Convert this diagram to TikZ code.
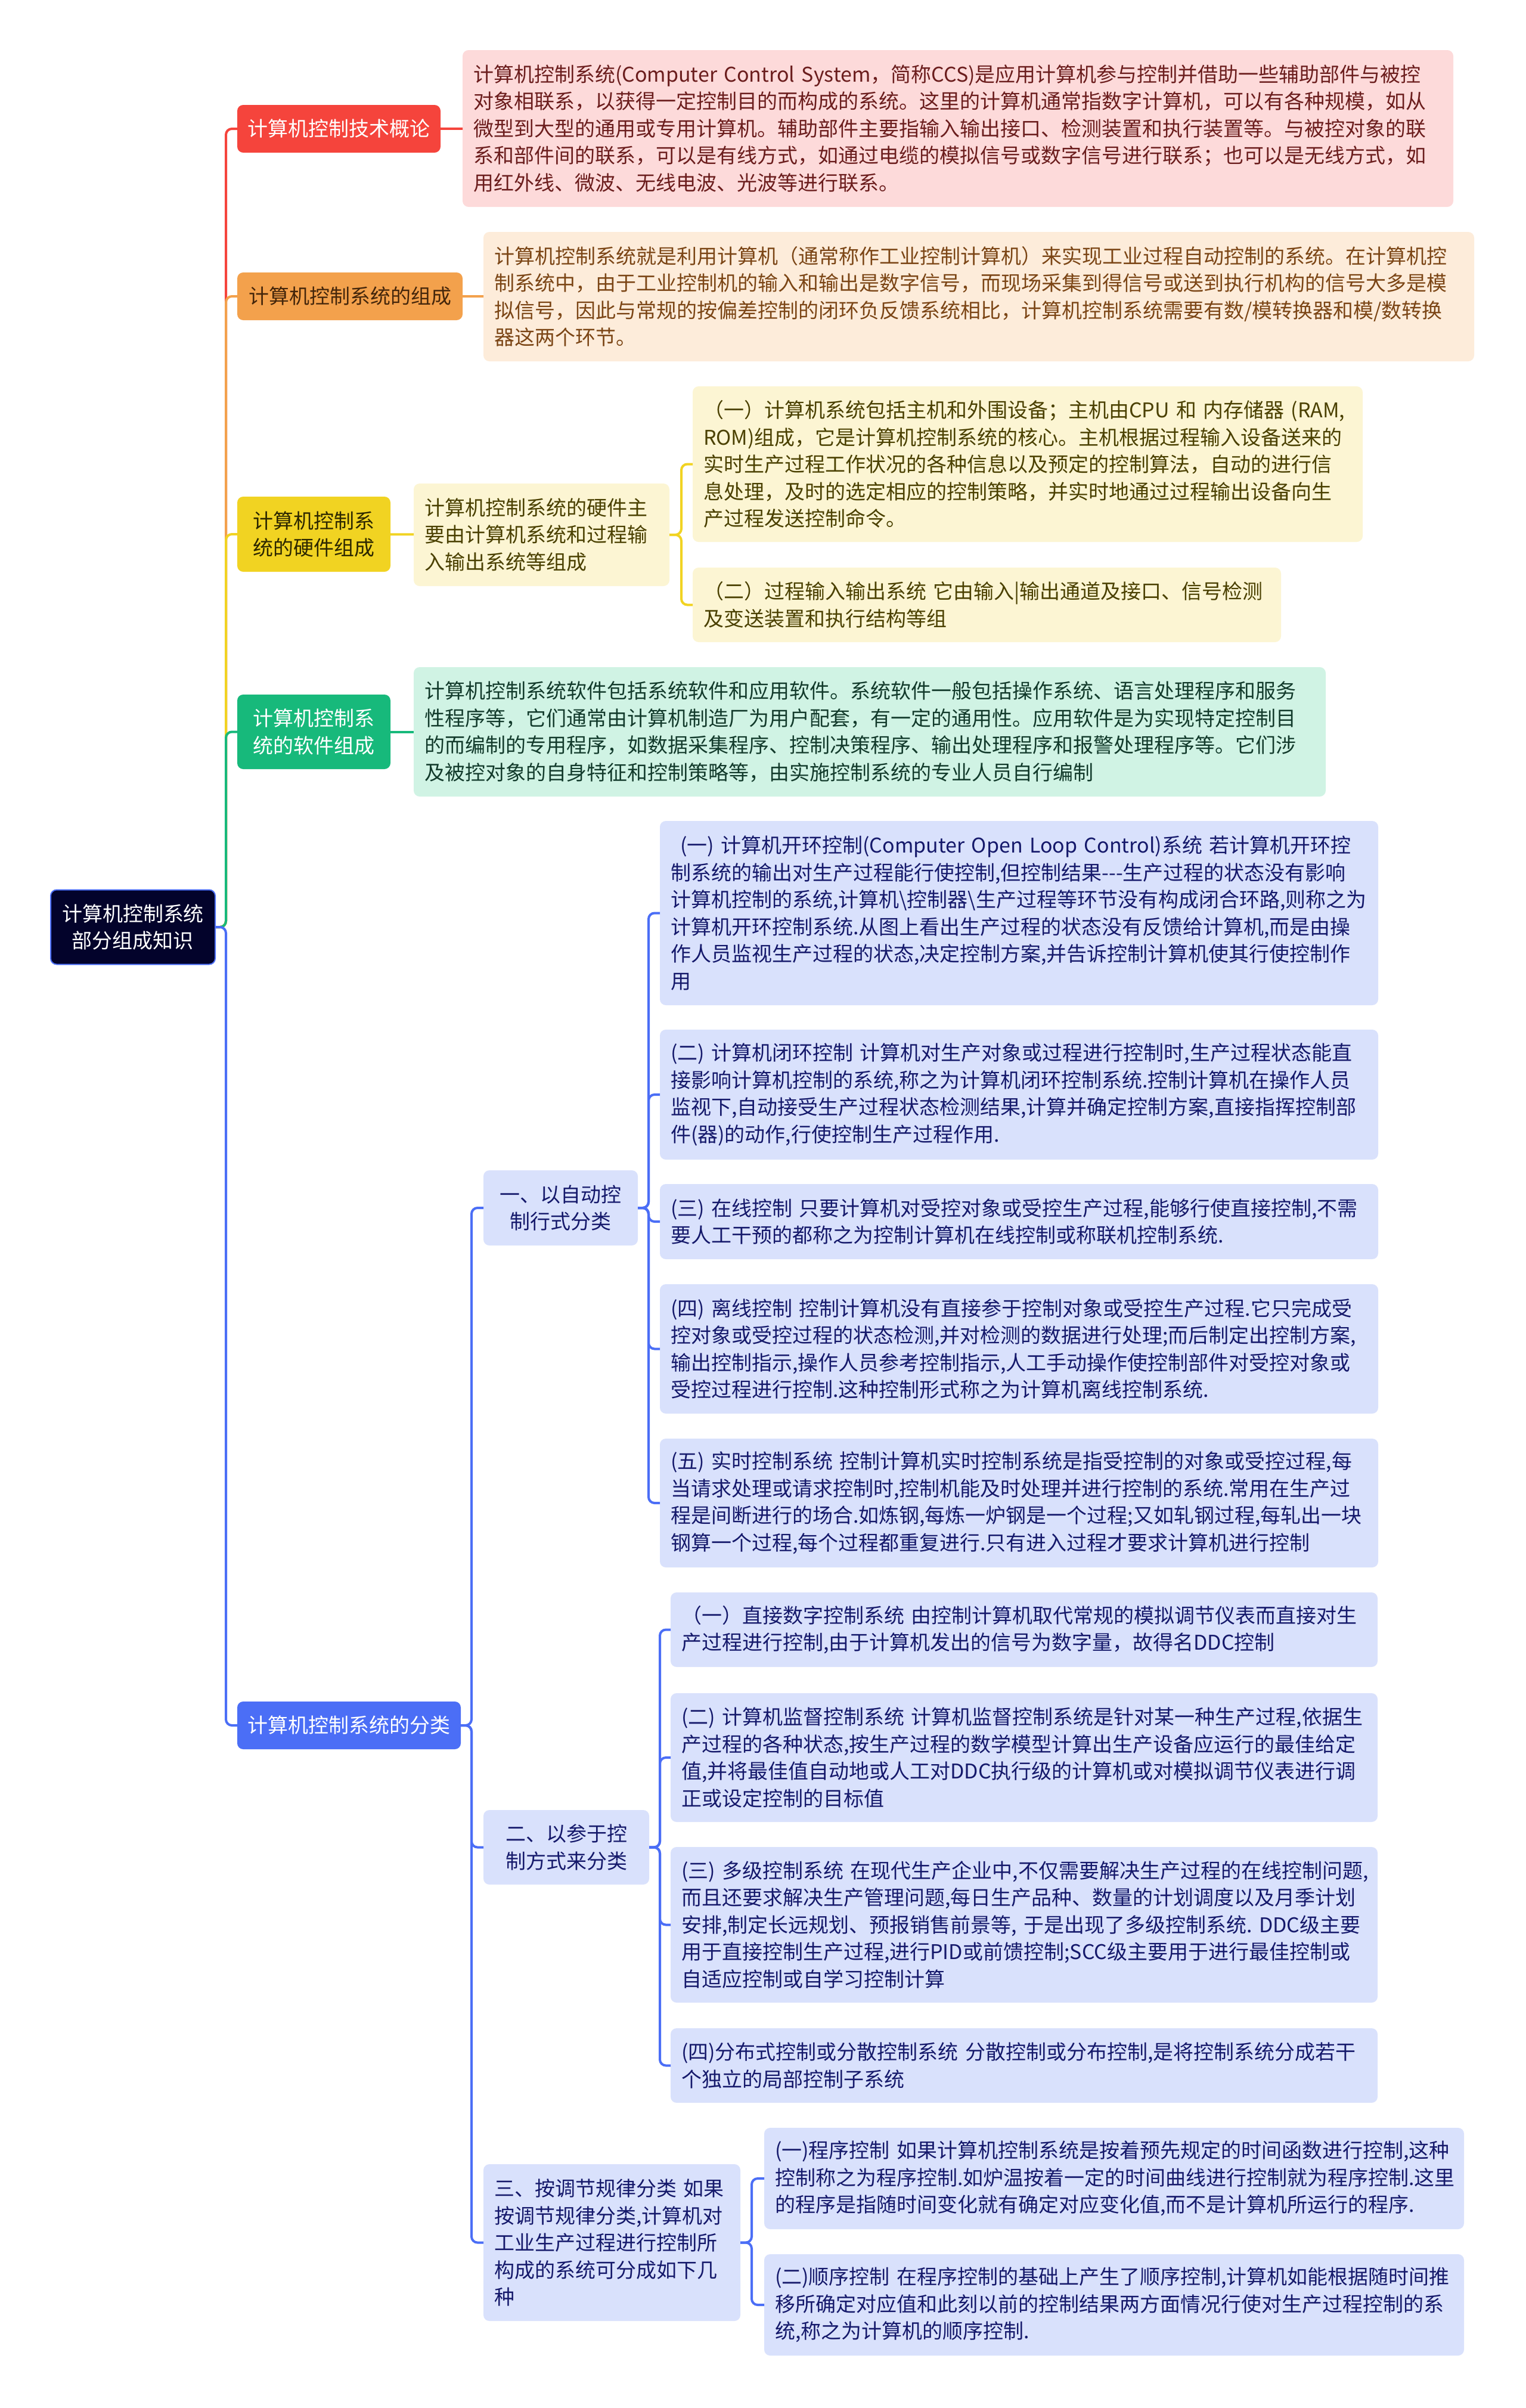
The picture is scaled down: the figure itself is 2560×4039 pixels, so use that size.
\documentclass[tikz,border=0pt]{standalone}
\usepackage{fontspec}
\newfontfamily\cjk{Noto Sans CJK SC}
\setlength{\parindent}{0pt}

\definecolor{rootc}{HTML}{03032B}
\definecolor{redc}{HTML}{F5443C}
\definecolor{redl}{HTML}{FDDADA}
\definecolor{redt}{HTML}{6B1D1D}
\definecolor{orac}{HTML}{F3A14C}
\definecolor{oral}{HTML}{FDECDA}
\definecolor{orat}{HTML}{7B4515}
\definecolor{yelc}{HTML}{F1D322}
\definecolor{yell}{HTML}{FCF5D3}
\definecolor{yelt}{HTML}{4A4000}
\definecolor{grec}{HTML}{17B97B}
\definecolor{grel}{HTML}{D0F3E4}
\definecolor{gret}{HTML}{123A2B}
\definecolor{bluc}{HTML}{4B6EF6}
\definecolor{blul}{HTML}{D9E1FC}
\definecolor{blut}{HTML}{15196B}

\begin{document}
\begin{tikzpicture}[x=0.5pt,y=-0.5pt,
    every node/.style={font=\cjk\fontsize{17pt}{22.75pt}\selectfont,inner sep=0pt,outer sep=0pt,anchor=west,rounded corners=5pt},
    topic/.style={align=center,minimum height=40pt},
    desc/.style={align=left,inner xsep=9pt},
    blu/.style={desc,fill=blul,text=blut},
    link/.style={line width=2pt,rounded corners=5pt},
    fork/.style={to path={(\tikztostart.east) -- ++(#1,0) |- (\tikztotarget.west)}}]
  \fill[white] (0,0) rectangle (2560,4039);
  \useasboundingbox (0,0) rectangle (2560,4039);

  \node[fill=rootc,draw=bluc,line width=1pt,text=white,align=center,minimum width=138pt,minimum height=62.5pt] (root) at (85,1555) {计算机控制系统\\部分组成知识};

  \node[topic,fill=redc,text=white,minimum width=170.5pt] (t1) at (398,216) {计算机控制技术概论};
  \node[topic,fill=orac,text=orat!55!black,minimum width=189pt] (t2) at (398,497) {计算机控制系统的组成};
  \node[topic,fill=yelc,text=yelt!60!black,minimum width=128.5pt,minimum height=63pt] (t3) at (398,896) {计算机控制系\\统的硬件组成};
  \node[topic,fill=grec,text=white,minimum width=128.5pt,minimum height=62.5pt] (t4) at (398,1227.5) {计算机控制系\\统的软件组成};
  \node[topic,fill=bluc,text=white,minimum width=187.5pt] (t5) at (398,2894) {计算机控制系统的分类};

  \node[desc,fill=redl,text=redt,text width=813pt,minimum height=131.5pt] (d1) at (776,215.5) {计算机控制系统(Computer~Control~System，简称CCS)是应用计算机参与控制并借助一些辅助部件与被控\\对象相联系，以获得一定控制目的而构成的系统。这里的计算机通常指数字计算机，可以有各种规模，如从\\微型到大型的通用或专用计算机。辅助部件主要指输入输出接口、检测装置和执行装置等。与被控对象的联\\系和部件间的联系，可以是有线方式，如通过电缆的模拟信号或数字信号进行联系；也可以是无线方式，如\\用红外线、微波、无线电波、光波等进行联系。};
  \node[desc,fill=oral,text=orat,text width=813pt,minimum height=108.5pt] (d2) at (811,497.5) {计算机控制系统就是利用计算机（通常称作工业控制计算机）来实现工业过程自动控制的系统。在计算机控\\制系统中，由于工业控制机的输入和输出是数字信号，而现场采集到得信号或送到执行机构的信号大多是模\\拟信号，因此与常规的按偏差控制的闭环负反馈系统相比，计算机控制系统需要有数/模转换器和模/数转换\\器这两个环节。};

  \node[desc,fill=yell,text=yelt,text width=196.5pt,minimum height=86pt] (h0) at (694,897) {计算机控制系统的硬件主\\要由计算机系统和过程输\\入输出系统等组成};
  \node[desc,fill=yell,text=yelt,text width=544pt,minimum height=130.5pt] (h1) at (1162,778.5) {（一）计算机系统包括主机和外围设备；主机由CPU~和~内存储器~(RAM,\\ROM)组成，它是计算机控制系统的核心。主机根据过程输入设备送来的\\实时生产过程工作状况的各种信息以及预定的控制算法，自动的进行信\\息处理，及时的选定相应的控制策略，并实时地通过过程输出设备向生\\产过程发送控制命令。};
  \node[desc,fill=yell,text=yelt,text width=475.5pt,minimum height=62.5pt] (h2) at (1162,1014.5) {（二）过程输入输出系统~它由输入|输出通道及接口、信号检测\\及变送装置和执行结构等组};

  \node[desc,fill=grel,text=gret,text width=747pt,minimum height=108.5pt] (s1) at (694,1227.5) {计算机控制系统软件包括系统软件和应用软件。系统软件一般包括操作系统、语言处理程序和服务\\性程序等，它们通常由计算机制造厂为用户配套，有一定的通用性。应用软件是为实现特定控制目\\的而编制的专用程序，如数据采集程序、控制决策程序、输出处理程序和报警处理程序等。它们涉\\及被控对象的自身特征和控制策略等，由实施控制系统的专业人员自行编制};

  \node[topic,fill=blul,text=blut,minimum width=129.5pt,minimum height=63pt] (ca) at (811,2026) {一、以自动控\\制行式分类};
  \node[topic,fill=blul,text=blut,minimum width=139pt,minimum height=62.5pt] (cb) at (811,3098.5) {二、以参于控\\制方式来分类};
  \node[blu,text width=197.5pt,minimum height=131.5pt] (cc) at (811,3761.5) {三、按调节规律分类~如果\\按调节规律分类,计算机对\\工业生产过程进行控制所\\构成的系统可分成如下几\\种};

  \node[blu,text width=584.5pt,minimum height=154.5pt] (a1) at (1107,1531.5) {\hspace*{8pt}(一)~计算机开环控制(Computer~Open~Loop~Control)系统~若计算机开环控\\制系统的输出对生产过程能行使控制,但控制结果-{}-{}-生产过程的状态没有影响\\计算机控制的系统,计算机\textbackslash{}控制器\textbackslash{}生产过程等环节没有构成闭合环路,则称之为\\计算机开环控制系统.从图上看出生产过程的状态没有反馈给计算机,而是由操\\作人员监视生产过程的状态,决定控制方案,并告诉控制计算机使其行使控制作\\用};
  \node[blu,text width=584.5pt,minimum height=109pt] (a2) at (1107,1836) {(二)~计算机闭环控制~计算机对生产对象或过程进行控制时,生产过程状态能直\\接影响计算机控制的系统,称之为计算机闭环控制系统.控制计算机在操作人员\\监视下,自动接受生产过程状态检测结果,计算并确定控制方案,直接指挥控制部\\件(器)的动作,行使控制生产过程作用.};
  \node[blu,text width=584.5pt,minimum height=63pt] (a3) at (1107,2049) {(三)~在线控制~只要计算机对受控对象或受控生产过程,能够行使直接控制,不需\\要人工干预的都称之为控制计算机在线控制或称联机控制系统.};
  \node[blu,text width=584.5pt,minimum height=108.5pt] (a4) at (1107,2262.5) {(四)~离线控制~控制计算机没有直接参于控制对象或受控生产过程.它只完成受\\控对象或受控过程的状态检测,并对检测的数据进行处理;而后制定出控制方案,\\输出控制指示,操作人员参考控制指示,人工手动操作使控制部件对受控对象或\\受控过程进行控制.这种控制形式称之为计算机离线控制系统.};
  \node[blu,text width=584.5pt,minimum height=108pt] (a5) at (1107,2521) {(五)~实时控制系统~控制计算机实时控制系统是指受控制的对象或受控过程,每\\当请求处理或请求控制时,控制机能及时处理并进行控制的系统.常用在生产过\\程是间断进行的场合.如炼钢,每炼一炉钢是一个过程;又如轧钢过程,每轧出一块\\钢算一个过程,每个过程都重复进行.只有进入过程才要求计算机进行控制};

  \node[blu,text width=575pt,minimum height=62.5pt] (b1) at (1125,2733.5) {（一）直接数字控制系统~由控制计算机取代常规的模拟调节仪表而直接对生\\产过程进行控制,由于计算机发出的信号为数字量，故得名DDC控制};
  \node[blu,text width=575pt,minimum height=108pt] (b2) at (1125,2948) {(二)~计算机监督控制系统~计算机监督控制系统是针对某一种生产过程,依据生\\产过程的各种状态,按生产过程的数学模型计算出生产设备应运行的最佳给定\\值,并将最佳值自动地或人工对DDC执行级的计算机或对模拟调节仪表进行调\\正或设定控制的目标值};
  \node[blu,text width=575pt,minimum height=130.5pt] (b3) at (1125,3228.5) {(三)~多级控制系统~在现代生产企业中,不仅需要解决生产过程的在线控制问题,\\而且还要求解决生产管理问题,每日生产品种、数量的计划调度以及月季计划\\安排,制定长远规划、预报销售前景等,~于是出现了多级控制系统.~DDC级主要\\用于直接控制生产过程,进行PID或前馈控制;SCC级主要用于进行最佳控制或\\自适应控制或自学习控制计算};
  \node[blu,text width=575pt,minimum height=62.5pt] (b4) at (1125,3464.5) {(四)分布式控制或分散控制系统~分散控制或分布控制,是将控制系统分成若干\\个独立的局部控制子系统};

  \node[blu,text width=569pt,minimum height=85pt] (c1) at (1282,3654) {(一)程序控制~如果计算机控制系统是按着预先规定的时间函数进行控制,这种\\控制称之为程序控制.如炉温按着一定的时间曲线进行控制就为程序控制.这里\\的程序是指随时间变化就有确定对应变化值,而不是计算机所运行的程序.};
  \node[blu,text width=569pt,minimum height=85pt] (c2) at (1282,3866) {(二)顺序控制~在程序控制的基础上产生了顺序控制,计算机如能根据随时间推\\移所确定对应值和此刻以前的控制结果两方面情况行使对生产过程控制的系\\统,称之为计算机的顺序控制.};

  \path[link]
    (root) edge[fork=18,redc] (t1)
    (root) edge[fork=18,orac] (t2)
    (root) edge[fork=18,yelc] (t3)
    (root) edge[fork=18,grec] (t4)
    (root) edge[fork=18,bluc] (t5)
    (t1) edge[redc] (d1)
    (t2) edge[orac] (d2)
    (t3) edge[yelc] (h0)
    (h0) edge[fork=20,yelc] (h1)
    (h0) edge[fork=20,yelc] (h2)
    (t4) edge[grec] (s1);

  \path[link,bluc]
    (t5) edge[fork=18] (ca)
    (t5) edge[fork=18] (cb)
    (t5) edge[fork=18] (cc)
    (ca) edge[fork=18] (a1)
    (ca) edge[fork=18] (a2)
    (ca) edge[fork=18] (a3)
    (ca) edge[fork=18] (a4)
    (ca) edge[fork=18] (a5)
    (cb) edge[fork=18] (b1)
    (cb) edge[fork=18] (b2)
    (cb) edge[fork=18] (b3)
    (cb) edge[fork=18] (b4)
    (cc) edge[fork=19] (c1)
    (cc) edge[fork=19] (c2);
\end{tikzpicture}
\end{document}
